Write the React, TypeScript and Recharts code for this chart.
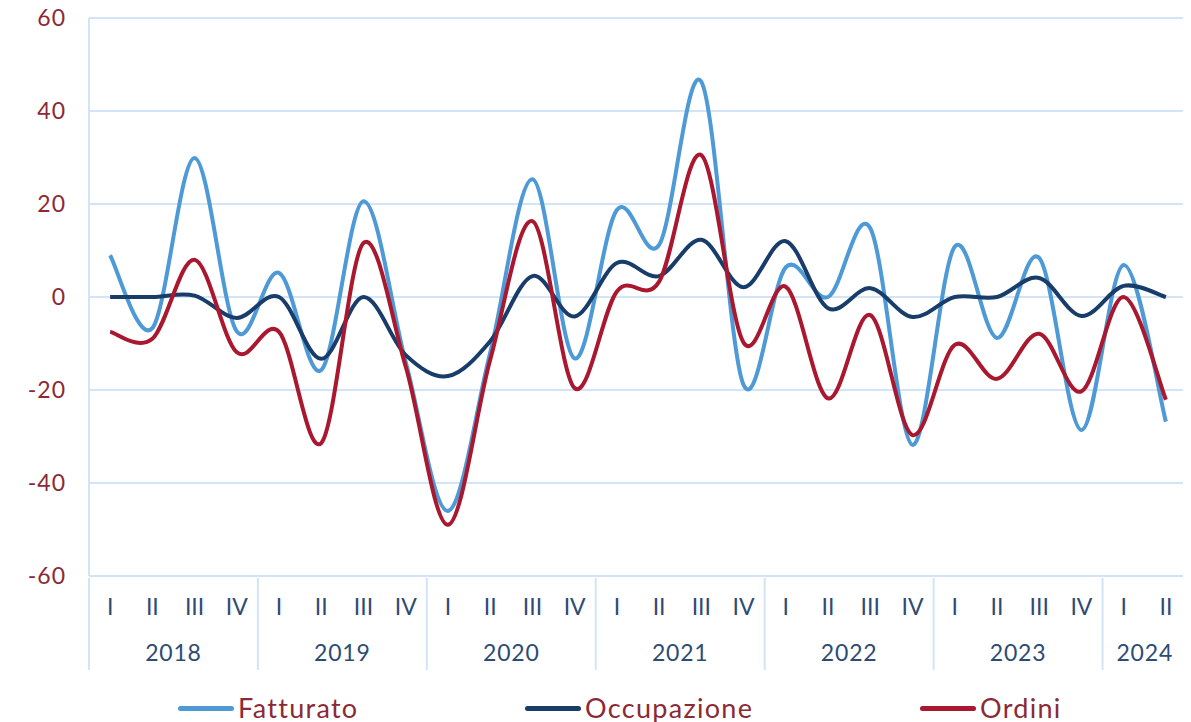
import { LineChart, Line, XAxis, YAxis, CartesianGrid } from 'recharts';

const QUARTERS = ['I', 'II', 'III', 'IV', 'I', 'II', 'III', 'IV', 'I', 'II', 'III', 'IV', 'I', 'II', 'III', 'IV', 'I', 'II', 'III', 'IV', 'I', 'II', 'III', 'IV', 'I', 'II'];
const YEARS = ['2018', '2018', '2018', '2018', '2019', '2019', '2019', '2019', '2020', '2020', '2020', '2020', '2021', '2021', '2021', '2021', '2022', '2022', '2022', '2022', '2023', '2023', '2023', '2023', '2024', '2024'];

const FATTURATO = [9, -6.7, 29.9, -7.4, 5.2, -15.7, 20.6, -14, -46, -12, 25.3, -13.2, 18.7, 11.2, 46.3, -18.9, 6.4, 0, 14.8, -31.8, 10.8, -8.8, 8.4, -28.6, 6.9, -26.8];
const OCCUPAZIONE = [0, 0, 0.3, -4.5, 0, -13.3, 0, -12.5, -17, -9.5, 4.5, -4.2, 7.3, 4.5, 12.3, 2.1, 12, -2.4, 1.9, -4.3, 0, 0, 4.1, -4.1, 2.4, 0];
const ORDINI = [-7.5, -9, 8, -11.9, -7.5, -31.4, 11.6, -15, -49, -13.5, 16.3, -19.6, 1.2, 3.3, 30.5, -9.8, 2.2, -21.8, -3.9, -29.7, -10.3, -17.6, -7.9, -20.3, 0, -22.1];

const Y_TICKS = [-60, -40, -20, 0, 20, 40, 60];

const SERIES = [
  { key: 'fatturato', name: 'Fatturato', color: '#4E9AD6', left: 170 },
  { key: 'occupazione', name: 'Occupazione', color: '#183D6B', left: 517 },
  { key: 'ordini', name: 'Ordini', color: '#A9182F', left: 912 },
];

const data = QUARTERS.map((q, i) => ({
  id: `${YEARS[i]}-${q}`,
  fatturato: FATTURATO[i],
  occupazione: OCCUPAZIONE[i],
  ordini: ORDINI[i],
}));

const W = 1183;
const H = 714;
const PLOT_W = 1098;
const BAND = PLOT_W / data.length;
const GRID = '#D3E4F6';
const FONT = 'Lato, "Open Sans", sans-serif';
const X_TEXT = '#2D4B74';
const RED_TEXT = '#8B2A36';

// Excel-like smoothing (Catmull-Rom through the points)
function smoothCurve(context: any) {
  let pts: number[][] = [];
  return {
    areaStart() {},
    areaEnd() {},
    lineStart() { pts = []; },
    lineEnd() {
      if (!pts.length) return;
      context.moveTo(pts[0][0], pts[0][1]);
      for (let i = 0; i < pts.length - 1; i++) {
        const p0 = pts[i - 1] || pts[i];
        const p1 = pts[i];
        const p2 = pts[i + 1];
        const p3 = pts[i + 2] || p2;
        context.bezierCurveTo(
          p1[0] + (p2[0] - p0[0]) / 6, p1[1] + (p2[1] - p0[1]) / 6,
          p2[0] - (p3[0] - p1[0]) / 6, p2[1] - (p3[1] - p1[1]) / 6,
          p2[0], p2[1],
        );
      }
    },
    point(x: number, y: number) { pts.push([+x, +y]); },
  };
}

function QuarterTick(props: any) {
  const { x, y, payload } = props;
  const i = payload.index;
  const yr = YEARS[i];
  const first = i === 0 || YEARS[i - 1] !== yr;
  const count = YEARS.filter((v) => v === yr).length;
  const left = x - BAND / 2;
  return (
    <g>
      <text x={x} y={y + 28} textAnchor="middle" dominantBaseline="central" fill={X_TEXT} fontSize={23} fontFamily={FONT}>
        {QUARTERS[i]}
      </text>
      {first && <line x1={left} x2={left} y1={y} y2={y + 92} stroke={GRID} strokeWidth={2} />}
      {first && (
        <text x={left + (count * BAND) / 2} y={y + 74} textAnchor="middle" dominantBaseline="central" fill={X_TEXT} fontSize={23} letterSpacing={0.8} fontFamily={FONT}>
          {yr}
        </text>
      )}
      {i === data.length - 1 && <line x1={x + BAND / 2} x2={x + BAND / 2} y1={y} y2={y + 92} stroke={GRID} strokeWidth={2} />}
    </g>
  );
}

export default function App() {
  return (
    <div style={{ position: 'relative', top: -8, width: W, height: 722, fontFamily: FONT }}>
      <style>{'body{overflow:hidden}'}</style>
      <LineChart width={W} height={H} data={data} margin={{ top: 18, right: 4, bottom: 48, left: 0 }}>
        <CartesianGrid vertical={false} stroke={GRID} strokeWidth={2} />
        <XAxis
          dataKey="id"
          interval={0}
          height={90}
          padding={{ left: BAND / 2, right: BAND / 2 }}
          axisLine={{ stroke: GRID, strokeWidth: 2 }}
          tickLine={false}
          tickSize={0}
          tick={<QuarterTick />}
        />
        <YAxis
          domain={[-60, 60]}
          ticks={Y_TICKS}
          width={81}
          axisLine={{ stroke: GRID, strokeWidth: 2 }}
          tickLine={false}
          tickSize={0}
          tickMargin={23}
          tick={{ fill: RED_TEXT, fontSize: 23, letterSpacing: 1, fontFamily: FONT }}
        />
        {SERIES.map((s) => (
          <Line
            key={s.key}
            dataKey={s.key}
            name={s.name}
            type={smoothCurve as any}
            stroke={s.color}
            strokeWidth={4}
            dot={false}
            activeDot={false}
            isAnimationActive={false}
          />
        ))}
      </LineChart>
      {SERIES.map((s) => (
        <div key={s.key} style={{ position: 'absolute', left: s.left, top: 693, height: 30, display: 'flex', alignItems: 'center' }}>
          <span style={{ display: 'inline-block', width: 56, height: 5, borderRadius: 3, background: s.color }} />
          <span style={{ marginLeft: 4, fontSize: 27, letterSpacing: 1.3, color: RED_TEXT, lineHeight: '30px' }}>{s.name}</span>
        </div>
      ))}
    </div>
  );
}
